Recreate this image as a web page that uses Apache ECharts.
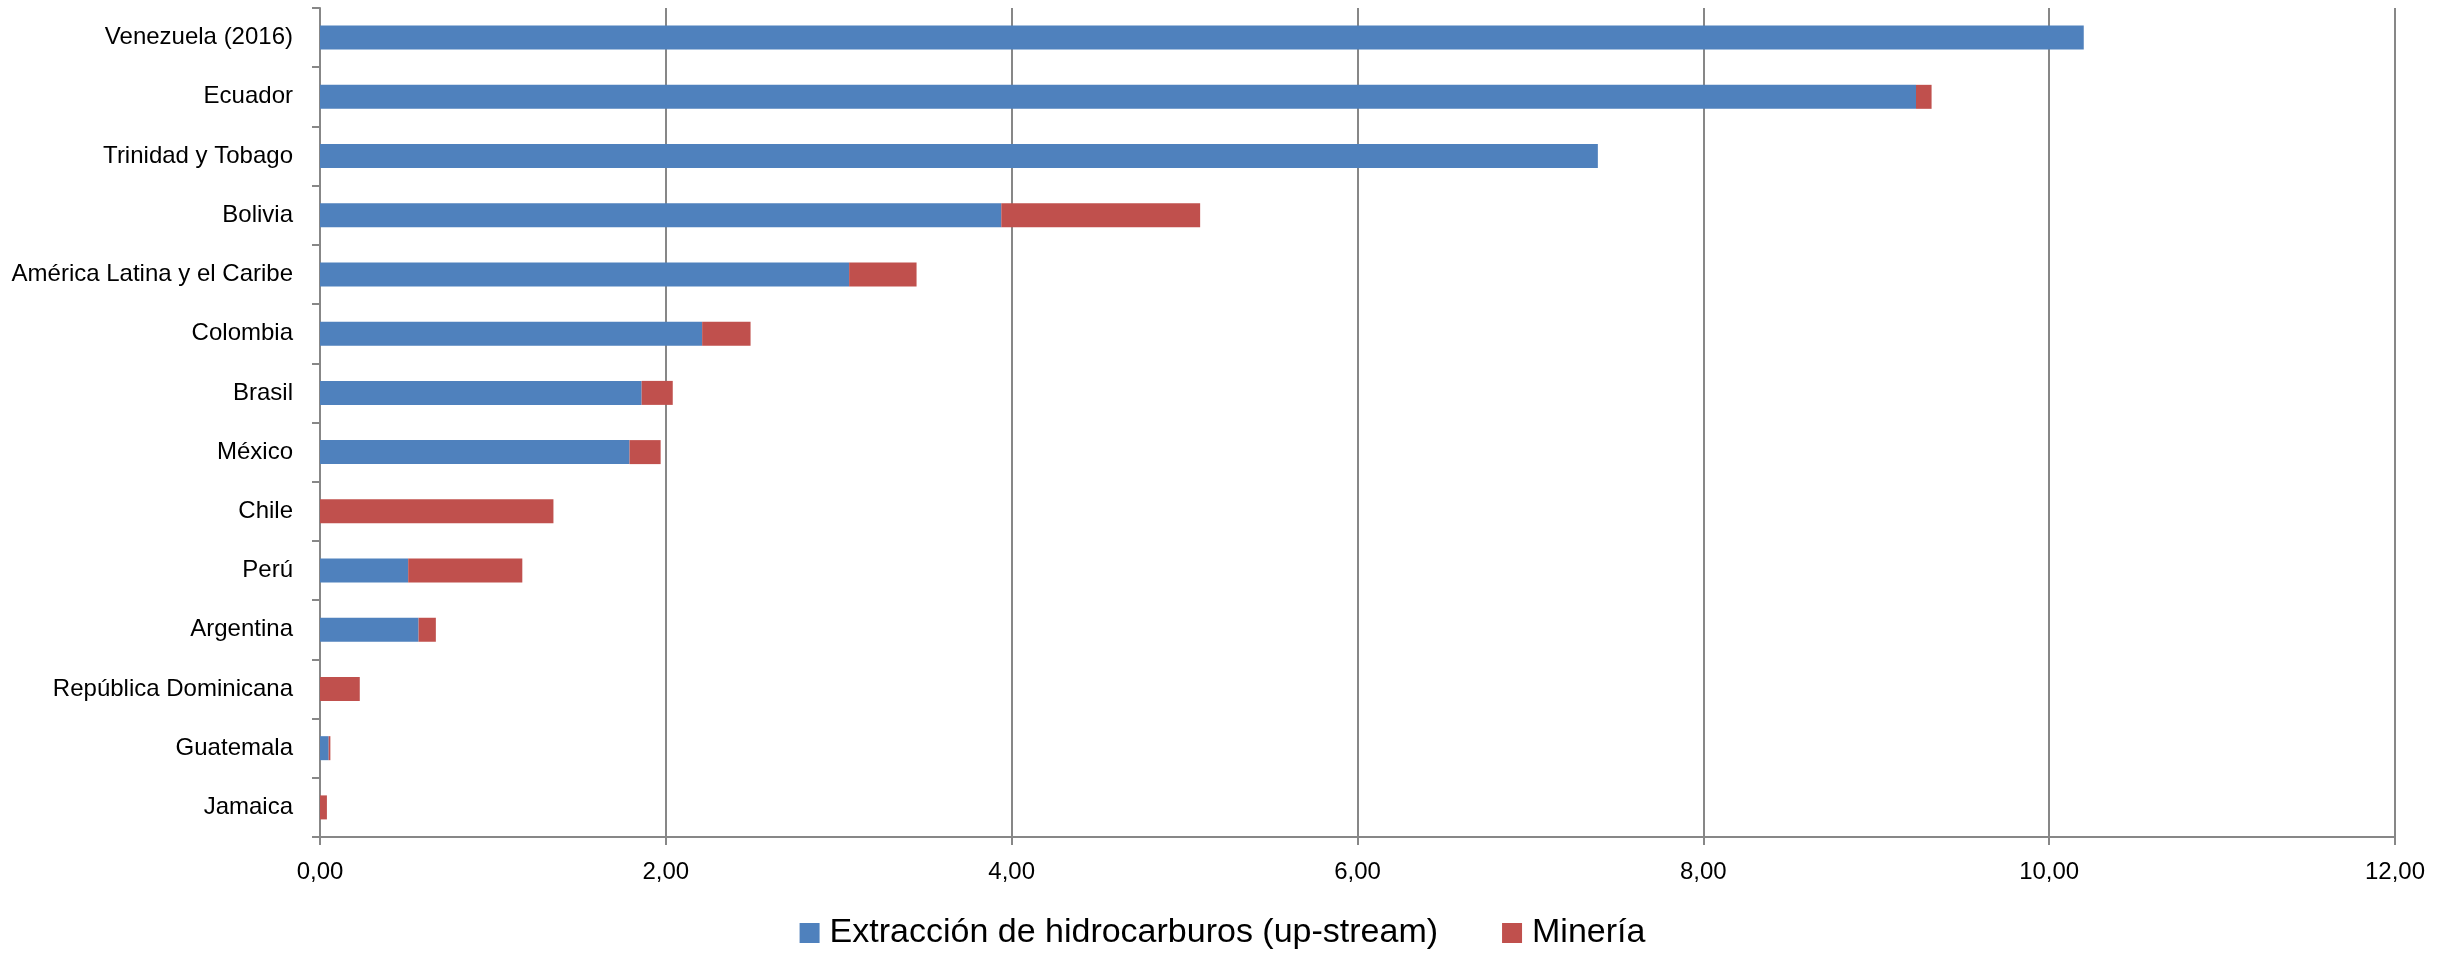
<!DOCTYPE html>
<html>
<head>
<meta charset="utf-8">
<script src="https://cdn.jsdelivr.net/npm/echarts@6/dist/echarts.min.js"></script>
<style>
html,body{margin:0;padding:0;background:#fff;}
#chart{width:2445px;height:953px;}
</style>
</head>
<body>
<div id="chart"></div>
<script>
const categories = ["Venezuela (2016)", "Ecuador", "Trinidad y Tobago", "Bolivia", "América Latina y el Caribe", "Colombia", "Brasil", "México", "Chile", "Perú", "Argentina", "República Dominicana", "Guatemala", "Jamaica"];
const hidrocarburos = [10.20, 9.23, 7.39, 3.94, 3.06, 2.21, 1.86, 1.79, 0.00, 0.51, 0.57, 0.00, 0.05, 0.00];
const mineria = [0.00, 0.09, 0.00, 1.15, 0.39, 0.28, 0.18, 0.18, 1.35, 0.66, 0.10, 0.23, 0.01, 0.04];
const seriesNames = ["Extracción de hidrocarburos (up-stream)", "Minería"];
const xTicks = { min: 0, max: 12, interval: 2 };

const FONT = "Liberation Sans, Arial, sans-serif";
const chart = echarts.init(document.getElementById('chart'), null, { renderer: 'canvas' });
chart.setOption({
  animation: false,
  backgroundColor: '#ffffff',
  grid: { left: 320, right: 50, top: 8, bottom: 116, containLabel: false },
  legend: {
    data: seriesNames,
    left: 'center',
    top: 911,
    itemWidth: 20,
    itemHeight: 20,
    itemGap: 64,
    icon: 'rect',
    textStyle: { fontFamily: FONT, fontSize: 34, color: '#000', padding: [0, 0, 0, 5] }
  },
  xAxis: {
    type: 'value',
    min: xTicks.min,
    max: xTicks.max,
    interval: xTicks.interval,
    axisLine: { show: true, lineStyle: { color: '#878787', width: 2 } },
    axisTick: { show: true, length: 8, lineStyle: { color: '#878787', width: 2 } },
    splitLine: { show: true, lineStyle: { color: '#878787', width: 2 } },
    axisLabel: {
      margin: 23,
      fontFamily: FONT, fontSize: 24, color: '#000',
      formatter: v => v.toFixed(2).replace('.', ',')
    }
  },
  yAxis: {
    type: 'category',
    data: categories,
    inverse: true,
    axisLine: { show: true, lineStyle: { color: '#878787', width: 2 } },
    axisTick: { show: true, length: 8, lineStyle: { color: '#878787', width: 2 } },
    axisLabel: { margin: 27, fontFamily: FONT, fontSize: 24, color: '#000' }
  },
  series: [
    { name: seriesNames[0], type: 'bar', stack: 'total', data: hidrocarburos, barWidth: 24,
      itemStyle: { color: '#4F81BD' } },
    { name: seriesNames[1], type: 'bar', stack: 'total', data: mineria, barWidth: 24,
      itemStyle: { color: '#C0504D' } }
  ]
});
</script>
</body>
</html>
